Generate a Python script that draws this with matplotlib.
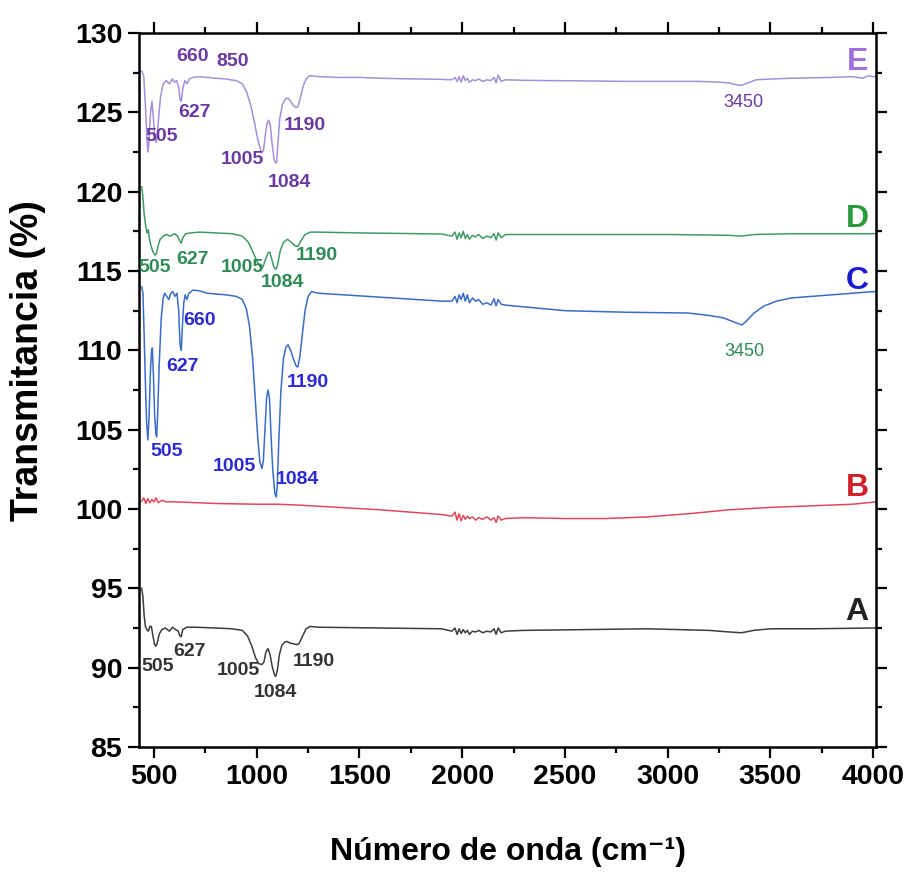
import matplotlib
matplotlib.use("Agg")
import matplotlib.pyplot as plt
from matplotlib.ticker import MultipleLocator

FAM = ['Liberation Sans', 'DejaVu Sans']
plt.rcParams['font.family'] = FAM

# ---------------- data ----------------
E_x = [440, 450, 460, 465, 470, 475, 482, 490, 496, 503, 510, 515, 522, 532, 545, 560, 575, 590, 600, 610, 620, 627, 633, 640, 650, 660, 672, 690, 720, 760, 800, 850, 900, 930, 950, 970, 990, 1005, 1015, 1025, 1033, 1042, 1050, 1058, 1066, 1075, 1085, 1092, 1097, 1103, 1112, 1125, 1140, 1152, 1165, 1180, 1192, 1200, 1210, 1225, 1240, 1255, 1270, 1300, 1400, 1500, 1600, 1700, 1800, 1900,
       1950, 1965, 1975, 1985, 1995, 2005, 2015, 2025, 2035, 2050, 2065, 2080, 2100, 2120, 2140, 2155, 2165, 2175, 2190, 2210,
       2300, 2400, 2600, 2800, 3000, 3150, 3250, 3300, 3330, 3360, 3390, 3430, 3500, 3600, 3800, 3900, 3950, 3975, 4000, 4015]
E_y = [127.6, 127.3, 125.0, 123.5, 122.5, 123.0, 124.8, 125.7, 124.8, 123.5, 123.1, 123.4, 124.6, 126.0, 126.8, 127.0, 126.8, 127.1, 126.9, 127.0, 126.6, 125.8, 125.7, 126.5, 127.0, 126.8, 127.1, 127.2, 127.25, 127.2, 127.15, 127.1, 127.0, 126.8, 126.3, 125.5, 124.3, 123.3, 122.8, 122.45, 122.6, 123.6, 124.3, 124.5, 124.2, 123.0, 122.0, 121.8, 121.9, 123.0, 124.6, 125.5, 125.85, 125.9, 125.7, 125.4, 125.3, 125.35, 125.8, 126.6, 127.1, 127.3, 127.3, 127.25, 127.2, 127.2, 127.15, 127.12, 127.1, 127.08,
       127.05, 127.2, 126.95, 127.25, 126.9, 127.3, 127.0, 127.15, 126.9, 127.05, 127.0, 127.1, 126.95, 127.05, 127.0, 127.2, 126.85, 127.35, 126.95, 127.05,
       127.02, 127.0, 126.98, 126.95, 126.95, 126.95, 126.9, 126.85, 126.75, 126.7, 126.85, 127.05, 127.1, 127.15, 127.2, 127.25, 127.15, 127.3, 127.25, 127.25]

D_x = [440, 445, 452, 460, 466, 472, 478, 485, 495, 505, 512, 520, 530, 545, 560, 580, 600, 615, 625, 633, 640, 655, 680, 720, 800, 880, 930, 960, 985, 1005, 1020, 1030, 1042, 1055, 1063, 1072, 1082, 1092, 1100, 1115, 1130, 1150, 1165, 1185, 1200, 1215, 1235, 1260, 1300, 1500, 1800, 1900,
       1950, 1965, 1975, 1985, 1995, 2005, 2015, 2025, 2035, 2050, 2065, 2080, 2100, 2120, 2140, 2155, 2165, 2175, 2190, 2210,
       2400, 3000, 3300, 3360, 3420, 3600, 4000, 4015]
D_y = [120.3, 119.8, 118.6, 117.8, 117.4, 117.6, 117.0, 116.6, 116.2, 116.0, 116.1, 116.6, 117.0, 117.2, 117.3, 117.2, 117.35, 117.2, 116.9, 116.75, 117.1, 117.35, 117.4, 117.45, 117.4, 117.35, 117.2, 116.8, 116.1, 115.5, 115.2, 115.25, 115.7, 116.15, 116.2, 115.8, 115.3, 115.1, 115.3, 116.3, 116.8, 117.0, 116.85, 116.6, 116.55, 116.9, 117.3, 117.45, 117.45, 117.4, 117.35, 117.33,
       117.2, 117.45, 117.0, 117.4, 117.1, 117.5, 117.05, 117.3, 117.0, 117.25, 117.15, 117.3, 117.05, 117.2, 117.1, 117.35, 116.95, 117.4, 117.1, 117.3,
       117.3, 117.3, 117.25, 117.2, 117.3, 117.35, 117.35, 117.35]

C_x = [440, 446, 452, 458, 464, 470, 476, 482, 488, 492, 497, 503, 509, 513, 518, 525, 535, 545, 552, 562, 572, 582, 592, 602, 612, 620, 627, 633, 638, 645, 652, 660, 670, 690, 720, 760, 800, 850, 900, 930, 950, 965, 980, 995, 1005, 1015, 1025, 1032, 1040, 1048, 1055, 1062, 1070, 1078, 1088, 1095, 1100, 1108, 1118, 1130, 1142, 1152, 1165, 1180, 1192, 1200, 1210, 1222, 1235, 1250, 1266, 1300, 1600, 1900,
       1950, 1965, 1975, 1985, 1995, 2005, 2015, 2025, 2035, 2050, 2065, 2080, 2100, 2120, 2140, 2155, 2165, 2175, 2190, 2210,
       2500, 2800, 3100, 3200, 3270, 3310, 3340, 3360, 3380, 3420, 3470, 3530, 3600, 3700, 3800, 3900, 4000, 4015]
C_y = [114.0, 113.6, 111.0, 108.0, 105.5, 104.35, 105.8, 108.5, 110.0, 110.15, 108.5, 106.0, 104.7, 104.55, 106.0, 109.0, 112.0, 113.3, 113.6, 113.4, 113.2, 113.6, 113.7, 113.4, 113.6, 112.5, 110.3, 110.0, 111.5, 113.0, 113.5, 113.2, 113.6, 113.8, 113.75, 113.6, 113.55, 113.5, 113.4, 113.2, 112.6, 111.5, 109.5, 106.5, 104.5, 103.0, 102.55, 103.0, 105.0, 107.0, 107.5, 107.0, 104.5, 102.5, 101.0, 100.75, 101.5, 104.5, 107.5, 109.5, 110.2, 110.35, 110.0, 109.4, 109.0, 108.95, 109.6, 111.0, 112.5, 113.4, 113.7, 113.6, 113.35, 113.1,
       113.1, 113.4, 113.0, 113.5, 113.2, 113.6, 113.1, 113.5, 113.0, 113.3, 113.1, 113.2, 112.9, 113.0, 112.85, 113.25, 112.8, 113.2, 112.9, 112.85,
       112.5, 112.4, 112.35, 112.2, 112.05, 111.85, 111.7, 111.6, 111.8, 112.35, 112.8, 113.1, 113.3, 113.4, 113.5, 113.6, 113.7, 113.7]

B_x = [440, 450, 460, 470, 480, 490, 500, 510, 520, 540, 560, 600, 700, 800, 1000, 1100, 1200, 1400, 1600, 1800, 1900,
       1950, 1965, 1975, 1985, 1995, 2005, 2015, 2025, 2035, 2050, 2065, 2080, 2100, 2120, 2140, 2155, 2165, 2175, 2190, 2210,
       2300, 2500, 2700, 2900, 3100, 3300, 3500, 3700, 3900, 4015]
B_y = [100.5, 100.7, 100.35, 100.65, 100.4, 100.6, 100.45, 100.7, 100.4, 100.55, 100.45, 100.45, 100.4, 100.35, 100.3, 100.3, 100.25, 100.1, 99.95, 99.75, 99.65,
       99.55, 99.8, 99.3, 99.7, 99.25, 99.6, 99.35, 99.55, 99.4, 99.5, 99.3, 99.45, 99.35, 99.5, 99.3, 99.45, 99.15, 99.55, 99.3, 99.4,
       99.45, 99.4, 99.4, 99.5, 99.7, 99.95, 100.1, 100.2, 100.3, 100.45]

A_x = [440, 446, 452, 458, 465, 472, 480, 487, 495, 502, 508, 515, 525, 538, 555, 575, 590, 605, 618, 626, 632, 640, 660, 700, 800, 880, 930, 955, 975, 995, 1010, 1025, 1035, 1045, 1055, 1065, 1075, 1085, 1092, 1100, 1110, 1122, 1135, 1148, 1162, 1180, 1195, 1205, 1220, 1240, 1260, 1300, 1600, 1900,
       1950, 1965, 1975, 1985, 1995, 2005, 2015, 2025, 2035, 2050, 2065, 2080, 2100, 2120, 2140, 2155, 2165, 2175, 2190, 2210,
       2300, 2600, 2900, 3200, 3300, 3360, 3420, 3500, 3700, 4000, 4015]
A_y = [95.0, 94.5, 93.3, 92.6, 92.4, 92.3, 92.6, 92.6, 92.0, 91.5, 91.35, 91.5, 92.1, 92.4, 92.5, 92.3, 92.55, 92.4, 92.3, 92.0, 91.95, 92.4, 92.55, 92.55, 92.5, 92.45, 92.35, 92.0, 91.4, 90.6, 90.25, 90.2, 90.35, 91.0, 91.2, 90.8, 90.1, 89.6, 89.45, 89.8, 90.8, 91.4, 91.6, 91.65, 91.55, 91.5, 91.45, 91.5, 91.9, 92.45, 92.6, 92.55, 92.5, 92.45,
       92.3, 92.5, 92.1, 92.45, 92.15, 92.4, 92.2, 92.35, 92.1, 92.3, 92.25, 92.35, 92.2, 92.3, 92.25, 92.45, 92.1, 92.5, 92.2, 92.3,
       92.35, 92.4, 92.45, 92.35, 92.25, 92.2, 92.35, 92.45, 92.45, 92.5, 92.5]

series = [
    ("A", A_x, A_y, "#3c3c3c"),
    ("B", B_x, B_y, "#e0485a"),
    ("C", C_x, C_y, "#3a6cc8"),
    ("D", D_x, D_y, "#3f9a66"),
    ("E", E_x, E_y, "#a58fd8"),
]

# peak annotations: (text, x, y, color, bold)
annotations = [
    ("660", 688, 128.5, "#6a3aa0", True), ("850", 884, 128.2, "#6a3aa0", True),
    ("627", 699, 125.0, "#6a3aa0", True), ("505", 538, 123.45, "#6a3aa0", True),
    ("1005", 928, 122.0, "#6a3aa0", True), ("1084", 1160, 120.6, "#6a3aa0", True),
    ("1190", 1233, 124.2, "#6a3aa0", True), ("3450", 3370, 125.6, "#6a3aa0", False),
    ("505", 504, 115.2, "#2e8a55", True), ("627", 688, 115.75, "#2e8a55", True),
    ("1005", 928, 115.2, "#2e8a55", True), ("1084", 1126, 114.25, "#2e8a55", True),
    ("1190", 1292, 115.95, "#2e8a55", True), ("3450", 3375, 109.9, "#2e8a55", False),
    ("627", 641, 108.95, "#2a2ad0", True), ("660", 723, 111.9, "#2a2ad0", True),
    ("505", 562, 103.6, "#2a2ad0", True), ("1005", 889, 102.65, "#2a2ad0", True),
    ("1084", 1199, 101.85, "#2a2ad0", True), ("1190", 1248, 108.0, "#2a2ad0", True),
    ("505", 519, 90.1, "#333333", True), ("627", 675, 91.05, "#333333", True),
    ("1005", 913, 89.85, "#333333", True), ("1084", 1093, 88.45, "#333333", True),
    ("1190", 1277, 90.4, "#333333", True),
]

letters = [("E", 128.2, "#a070e0"), ("D", 118.3, "#2a9a3a"), ("C", 114.4, "#1a1ad0"),
           ("B", 101.3, "#d0202a"), ("A", 93.5, "#222222")]

# ---------------- figure ----------------
fig = plt.figure(figsize=(9.08, 8.73), dpi=100)
ax = fig.add_axes([139/908, 1-747/873, (876-139)/908, (747-33)/873])

for name, xs, ys, col in series:
    ax.plot(xs, ys, color=col, lw=1.1)

for t, x, y, col, b in annotations:
    ax.text(x, y, t, color=col, fontsize=14 if b else 13, fontweight='bold' if b else 'normal',
            ha='center', va='center')

for t, y, col in letters:
    ax.text(3922, y, t, color=col, fontsize=23, fontweight='bold', ha='center', va='center')

ax.set_xlim(427, 4014)
ax.set_ylim(85, 130)
ax.xaxis.set_major_locator(MultipleLocator(500))
ax.xaxis.set_minor_locator(MultipleLocator(250))
ax.yaxis.set_major_locator(MultipleLocator(5))
ax.yaxis.set_minor_locator(MultipleLocator(2.5))
ax.tick_params(which='both', direction='out', top=True, right=True, width=1.6)
ax.tick_params(which='major', length=8, labelsize=20.5, pad=4)
ax.tick_params(which='minor', length=4.5)
for lab in ax.get_xticklabels() + ax.get_yticklabels():
    lab.set_fontweight('bold')
for s in ax.spines.values():
    s.set_linewidth(1.8)

fig.text(28/908, 1-361/873, "Transmitancia (%)", rotation=90, ha='center', va='center',
         fontsize=27, fontweight='bold')
fig.text(508/908, 1-852/873, "Número de onda (cm\u207b\u00b9)", ha='center', va='center',
         fontsize=23, fontweight='bold')

fig.savefig("out.png", dpi=100)
